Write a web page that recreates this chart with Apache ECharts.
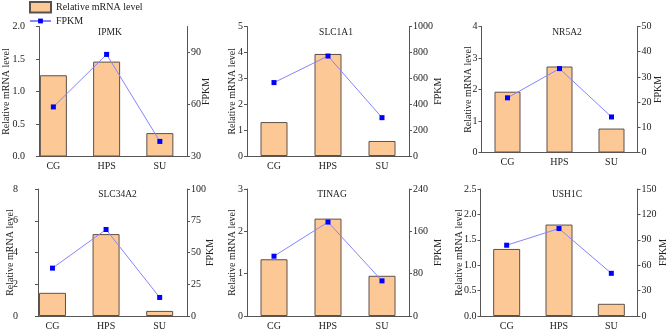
<!DOCTYPE html>
<html>
<head>
<meta charset="utf-8">
<script src="https://cdn.jsdelivr.net/npm/echarts@6/dist/echarts.min.js"></script>
<style>html,body{margin:0;padding:0;background:#fff}#c{width:669px;height:331px}</style>
</head>
<body>
<div id="c"></div>
<script>
// ---- data ----
const categories = ['CG', 'HPS', 'SU'];
const genes = ['IPMK', 'SLC1A1', 'NR5A2', 'SLC34A2', 'TINAG', 'USH1C'];

const relIPMK = [1.25, 1.46, 0.36];
const fpkmIPMK = [58.6, 88.9, 38.7];
const relSLC1A1 = [1.31, 3.94, 0.58];
const fpkmSLC1A1 = [567, 772, 296];
const relNR5A2 = [1.93, 2.73, 0.76];
const fpkmNR5A2 = [21.7, 33.3, 14.1];
const relSLC34A2 = [1.46, 5.16, 0.32];
const fpkmSLC34A2 = [37.7, 68.1, 14.6];
const relTINAG = [1.34, 2.30, 0.95];
const fpkmTINAG = [113, 177.5, 66.4];
const relUSH1C = [1.32, 1.80, 0.24];
const fpkmUSH1C = [83.6, 103.3, 50.4];

const relAll = [relIPMK, relSLC1A1, relNR5A2, relSLC34A2, relTINAG, relUSH1C];
const fpkmAll = [fpkmIPMK, fpkmSLC1A1, fpkmNR5A2, fpkmSLC34A2, fpkmTINAG, fpkmUSH1C];

// axis ticks
const leftMax = [2, 5, 4, 8, 3, 2.5];
const leftStep = [0.5, 1, 1, 2, 1, 0.5];
const leftDecimals = [1, 0, 0, 0, 0, 1];
const rightMin = [30, 0, 0, 0, 0, 0];
const rightMax = [105, 1000, 50, 100, 240, 150];
const rightStep = [30, 200, 10, 25, 80, 30];

// ---- layout ----
const grids = [
  {left: 38, top: 26.5, width: 149, height: 130},
  {left: 247, top: 26.5, width: 162, height: 129.5},
  {left: 481.5, top: 26.5, width: 156, height: 126},
  {left: 38, top: 189, width: 149, height: 129.5},
  {left: 247, top: 189, width: 162, height: 129.5},
  {left: 480.5, top: 189, width: 161, height: 129.5}
];
const xMin = [0.73, 0.5, 0.5, 0.73, 0.5, 0.5];
const xMax = [3.51, 3.5, 3.5, 3.51, 3.5, 3.5];
const barW = [27, 27, 26, 27, 27, 27];
const leftLabelMargin = [14, 4, 4, 20, 4, 4];
const leftNameGap = [28, 10, 8, 23, 10, 16];
const rightNameGap = [14.5, 24, 16, 18, 24, 20.5];
const titlePos = [[110, 32.5], [336, 32.5], [567, 32.5], [117.5, 194.5], [332, 194.5], [567, 194.5]];

const FONT = 'Liberation Serif';
const axisColor = '#555';
const textColor = '#222';

const option = {
  animation: false,
  backgroundColor: '#fff',
  textStyle: {fontFamily: FONT},
  legend: [{
    orient: 'vertical', left: 29, top: 1, padding: 0,
    itemWidth: 21, itemHeight: 10.5,
    textStyle: {fontFamily: FONT, fontSize: 10, color: textColor},
    data: [{name: 'Relative mRNA level', icon: 'rect'}]
  }, {
    orient: 'vertical', left: 29, top: 16, padding: 0,
    itemWidth: 21, itemHeight: 6,
    textStyle: {fontFamily: FONT, fontSize: 10, color: textColor},
    data: ['FPKM']
  }],
  grid: grids,
  xAxis: [],
  yAxis: [],
  series: [],
  graphic: []
};

genes.forEach((g, i) => {
  option.xAxis.push({
    type: 'value', gridIndex: i, min: xMin[i], max: xMax[i],
    axisLine: {show: true, lineStyle: {color: axisColor}},
    axisTick: {show: false},
    splitLine: {show: false},
    axisLabel: {
      customValues: [1, 2, 3],
      formatter: v => categories[Math.round(v) - 1] || '',
      fontFamily: FONT, fontSize: 10, color: textColor, margin: 5
    }
  });
  option.yAxis.push({
    type: 'value', gridIndex: i, position: 'left',
    min: 0, max: leftMax[i], interval: leftStep[i],
    name: 'Relative mRNA level', nameLocation: 'middle', nameGap: leftNameGap[i],
    nameMoveOverlap: false,
    nameTextStyle: {fontFamily: FONT, fontSize: 10, color: textColor},
    axisLine: {show: true, lineStyle: {color: axisColor}},
    axisTick: {show: true, length: 3, lineStyle: {color: axisColor}},
    splitLine: {show: false},
    axisLabel: {
      formatter: v => v.toFixed(leftDecimals[i]),
      fontFamily: FONT, fontSize: 10, color: textColor, margin: leftLabelMargin[i]
    }
  });
  const rTicks = [];
  for (let v = rightMin[i]; v <= rightMax[i] + 1e-9; v += rightStep[i]) rTicks.push(v);
  option.yAxis.push({
    type: 'value', gridIndex: i, position: 'right',
    min: rightMin[i], max: rightMax[i], interval: rightStep[i],
    name: 'FPKM', nameLocation: 'middle', nameGap: rightNameGap[i],
    nameMoveOverlap: false,
    nameTextStyle: {fontFamily: FONT, fontSize: 10, color: textColor},
    axisLine: {show: true, lineStyle: {color: axisColor}},
    axisTick: {show: true, length: 3, lineStyle: {color: axisColor}, customValues: rTicks},
    splitLine: {show: false},
    axisLabel: {customValues: rTicks, formatter: v => String(v), fontFamily: FONT, fontSize: 10, color: textColor, margin: 4}
  });
  option.series.push({
    name: 'Relative mRNA level', type: 'bar',
    xAxisIndex: i, yAxisIndex: 2 * i,
    barWidth: barW[i],
    itemStyle: {color: '#FCC896', borderColor: '#5e5048', borderWidth: 1},
    data: relAll[i].map((v, k) => [k + 1, v])
  });
  option.series.push({
    name: 'FPKM', type: 'line',
    xAxisIndex: i, yAxisIndex: 2 * i + 1,
    symbol: 'rect', symbolSize: 5,
    lineStyle: {color: '#8585ff', width: 1},
    itemStyle: {color: '#0000ff'},
    data: fpkmAll[i].map((v, k) => [k + 1, v]),
    z: 5
  });
  option.graphic.push({
    type: 'text', x: titlePos[i][0], y: titlePos[i][1],
    style: {text: g, fill: textColor, font: '9.5px "Liberation Serif"', textAlign: 'center', textVerticalAlign: 'middle'}
  });
});

const chart = echarts.init(document.getElementById('c'), null, {renderer: 'canvas'});
chart.setOption(option);
</script>
</body>
</html>
